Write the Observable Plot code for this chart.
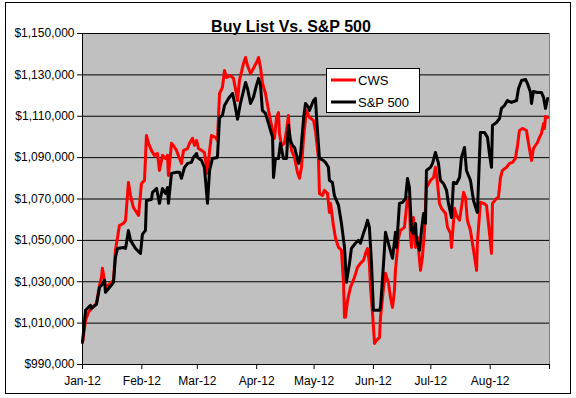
<!DOCTYPE html>
<html><head><meta charset="utf-8">
<script src="https://cdn.jsdelivr.net/npm/d3@7"></script>
<script src="https://cdn.jsdelivr.net/npm/@observablehq/plot@0.6"></script>
<style>body{margin:0;background:#fff;} svg{display:block}</style>
</head><body><div id="chart"></div>
<script>
const title = "Buy List Vs. S&P 500";
const seriesNames = ["CWS", "S&P 500"];
const seriesColors = ["#ff0000", "#000000"];
const yTicks = [990000, 1010000, 1030000, 1050000, 1070000, 1090000, 1110000, 1130000, 1150000];
const xTickLabels = ["Jan-12", "Feb-12", "Mar-12", "Apr-12", "May-12", "Jun-12", "Jul-12", "Aug-12"];
// [days since 1 Jan 2012, portfolio value]
const cwsData = [[0,1000700],[1.6,1011400],[3.1,1015200],[4.7,1017100],[7.3,1019600],[8.9,1028300],[9.9,1032100],[10.4,1036500],[11.5,1030700],[12.0,1027300],[14.6,1029200],[16.2,1030700],[17.2,1045200],[18.3,1051400],[19.3,1057200],[21.4,1058200],[22.5,1059700],[24.0,1078000],[25.1,1071700],[26.6,1065900],[29.3,1062100],[30.8,1077500],[32.4,1079000],[33.4,1100700],[34.5,1096900],[36.0,1093500],[37.6,1091100],[39.2,1092000],[40.2,1083800],[41.8,1091100],[43.4,1089600],[44.4,1091100],[44.9,1081400],[46.5,1096900],[47.5,1095900],[49.1,1093500],[50.7,1089600],[51.7,1087200],[52.8,1093500],[54.9,1094400],[55.9,1096900],[57.5,1099300],[58.5,1095900],[59.6,1098300],[60.6,1094400],[62.2,1093500],[63.7,1092500],[65.3,1082400],[66.4,1093500],[67.4,1100700],[69.5,1099800],[70.5,1098300],[71.6,1121000],[73.1,1123900],[74.2,1132100],[75.2,1128700],[77.3,1129700],[78.9,1128300],[79.9,1123400],[81.0,1117600],[82.0,1127300],[84.1,1135500],[85.2,1138400],[86.2,1134500],[87.8,1130700],[89.3,1133100],[91.4,1137000],[92.0,1138400],[93.0,1133600],[94.0,1126300],[95.6,1121000],[97.2,1112800],[99.3,1103100],[100.3,1099300],[101.4,1109400],[102.4,1111800],[102.9,1101700],[104.0,1095900],[105.5,1096900],[106.6,1103100],[107.6,1110400],[108.2,1099800],[109.2,1093500],[110.8,1090100],[112.3,1082900],[113.4,1080000],[114.4,1085300],[115.5,1099800],[117.0,1112800],[118.6,1109400],[120.7,1108000],[121.7,1103100],[123.3,1089600],[123.8,1072700],[125.4,1071700],[126.4,1074200],[128.0,1072700],[129.0,1063500],[129.6,1067900],[131.1,1057200],[132.2,1051000],[133.8,1046600],[135.3,1045200],[136.4,1029200],[136.9,1012800],[137.4,1012800],[138.5,1021000],[140.0,1027300],[142.1,1032100],[143.7,1037000],[145.2,1038900],[146.8,1040300],[147.9,1043700],[148.9,1046100],[149.9,1038900],[150.5,1027300],[151.5,1015200],[152.6,1000200],[153.6,1001700],[155.2,1003100],[155.7,1012800],[157.3,1027300],[158.3,1034100],[159.9,1029200],[160.9,1022500],[162.0,1017600],[163.0,1025800],[163.5,1035500],[165.1,1051000],[166.1,1054800],[168.2,1056300],[169.8,1070800],[170.8,1069300],[171.4,1051400],[171.9,1046600],[172.9,1061100],[174.0,1046600],[175.0,1051400],[176.6,1035500],[177.6,1041800],[178.7,1054800],[179.7,1075600],[181.8,1079000],[183.4,1080400],[184.4,1085300],[185.5,1077500],[186.5,1067900],[187.6,1065500],[189.7,1063000],[190.7,1056300],[192.3,1053400],[192.8,1046600],[194.4,1065500],[195.4,1062100],[197.0,1059700],[198.0,1065900],[199.1,1073200],[200.1,1070800],[201.1,1059700],[202.7,1054800],[204.3,1045200],[205.9,1035500],[206.3,1048600],[207.9,1068400],[209.5,1067900],[211.1,1066900],[212.1,1058200],[213.7,1043700],[214.2,1067900],[216.3,1070300],[217.3,1070800],[218.4,1080400],[219.4,1083800],[221.5,1085300],[223.1,1087200],[224.7,1087700],[226.2,1089600],[227.3,1095900],[228.3,1103100],[229.9,1104100],[232.0,1103100],[232.5,1099800],[234.1,1091100],[234.6,1088600],[235.6,1094400],[237.7,1097300],[238.8,1099800],[239.8,1101700],[240.9,1106500],[241.4,1104100],[241.9,1109900],[243.0,1109400]];
const spData = [[0,1000700],[1.6,1016200],[4.2,1018600],[4.7,1017100],[7.3,1019100],[8.9,1027300],[9.9,1028300],[11.5,1030700],[12.0,1024900],[14.6,1027800],[16.2,1029700],[17.2,1041800],[18.3,1046100],[21.4,1046600],[22.5,1046100],[24.0,1054800],[25.1,1050000],[27.7,1046100],[30.3,1043700],[31.3,1052900],[32.9,1054800],[33.4,1069300],[36.0,1069800],[36.6,1073200],[38.7,1075100],[40.2,1067900],[41.8,1075100],[43.4,1072700],[44.4,1075600],[44.9,1067900],[46.5,1082400],[49.1,1082900],[50.7,1082900],[51.7,1080000],[53.3,1085300],[54.9,1087200],[56.9,1087700],[58.0,1090100],[59.6,1092000],[60.1,1090100],[62.2,1088600],[63.7,1085300],[65.3,1067900],[66.4,1083800],[67.9,1089600],[70.5,1090100],[71.6,1109400],[73.1,1110400],[74.2,1115200],[76.3,1118600],[78.4,1121000],[79.4,1116700],[81.0,1108500],[82.5,1116200],[85.2,1126300],[86.2,1123400],[87.8,1116200],[89.3,1119100],[90.9,1124900],[92.0,1128300],[93.0,1124900],[94.0,1112800],[95.6,1111400],[97.2,1106500],[99.3,1099800],[99.8,1080400],[100.8,1089600],[102.4,1089600],[103.4,1096900],[105.0,1089600],[106.6,1089600],[107.6,1105600],[108.7,1098300],[109.7,1095900],[110.8,1094900],[112.9,1087200],[113.9,1091100],[115.5,1108900],[116.5,1116200],[118.1,1114300],[118.6,1112800],[120.7,1117600],[121.7,1118600],[122.3,1109400],[123.8,1089600],[125.9,1088600],[127.0,1087700],[128.5,1085300],[129.0,1079000],[130.6,1078000],[131.6,1071700],[133.8,1066900],[135.3,1058200],[136.9,1046600],[137.9,1029700],[139.5,1038900],[140.5,1046100],[142.6,1048600],[144.2,1050000],[145.2,1048600],[146.8,1053400],[147.9,1056300],[148.9,1059700],[149.9,1056300],[151.0,1038900],[152.0,1016200],[155.2,1016200],[155.7,1017600],[157.3,1038900],[158.3,1053900],[160.4,1046600],[162.0,1041300],[163.5,1053900],[164.1,1046600],[165.6,1067900],[167.2,1068400],[168.8,1070300],[169.8,1079900],[170.8,1075600],[171.9,1054800],[172.9,1053400],[174.0,1058200],[174.5,1050000],[176.1,1045200],[177.1,1054800],[178.2,1063000],[179.2,1058200],[179.7,1083800],[181.8,1085300],[182.9,1087200],[184.4,1092500],[186.0,1087200],[187.0,1079000],[188.6,1077500],[190.2,1074200],[191.2,1067900],[192.8,1061100],[193.8,1078000],[195.4,1077500],[197.0,1080400],[198.0,1090100],[199.6,1094900],[200.6,1083800],[202.7,1079000],[204.3,1069300],[205.9,1064500],[206.3,1063500],[206.9,1077500],[207.9,1102200],[210.0,1102200],[211.6,1099800],[212.6,1092000],[213.7,1085300],[214.2,1105600],[216.3,1107000],[217.9,1108900],[218.9,1113800],[220.5,1115200],[222.0,1117600],[224.1,1116700],[226.8,1117600],[227.8,1123400],[229.4,1127300],[231.5,1127800],[232.5,1125800],[234.1,1121500],[234.6,1116200],[235.6,1122000],[237.7,1121500],[239.8,1121500],[240.9,1119100],[241.9,1113800],[243.0,1118600]];

const t0 = Date.UTC(2012, 0, 1);
const toDate = d => new Date(t0 + d * 864e5);
const monthTicks = d3.range(9).map(m => new Date(Date.UTC(2012, m, 1)));
const labelMap = new Map(xTickLabels.map((l, i) => [+monthTicks[i], l]));
const cws = cwsData.map(([d, v]) => ({date: toDate(d), value: v}));
const sp = spData.map(([d, v]) => ({date: toDate(d), value: v}));
const font = "'Liberation Sans', Arial, sans-serif";

const svg = Plot.plot({
  width: 576, height: 398,
  marginLeft: 82, marginRight: 27, marginTop: 33, marginBottom: 34,
  style: {fontFamily: font, fontSize: "12px", background: "#fff", color: "#000"},
  x: {type: "utc", domain: [monthTicks[0], monthTicks[8]]},
  y: {domain: [990000, 1150000]},
  marks: [
    Plot.frame({fill: "#c0c0c0", stroke: "#808080"}),
    Plot.ruleY(yTicks, {stroke: "#000", strokeWidth: 1}),
    Plot.ruleX([monthTicks[0]], {stroke: "#000"}),
    Plot.axisY(yTicks, {tickFormat: d3.format("$,"), tickSize: 5, tickPadding: 3, label: null, fontSize: 12, letterSpacing: "0.5px"}),
    Plot.axisX(monthTicks, {tickFormat: d => labelMap.get(+d) ?? "", tickSize: 5, tickPadding: 7, label: null, fontSize: 12, letterSpacing: "0.3px"}),
    Plot.line(cws, {x: "date", y: "value", stroke: seriesColors[0], strokeWidth: 3}),
    Plot.line(sp, {x: "date", y: "value", stroke: seriesColors[1], strokeWidth: 3}),
    Plot.text([title], {frameAnchor: "top", dx: -25, dy: -13, fontSize: 16, fontWeight: "bold", letterSpacing: "2.2px"})
  ]
});

const s = d3.select(svg);
s.append("rect").attr("x", 5.5).attr("y", 2.5).attr("width", 565).attr("height", 391)
  .attr("fill", "none").attr("stroke", "#000");
const lg = s.append("g").attr("font-family", font).attr("font-size", 13).attr("text-anchor", "start");
lg.append("rect").attr("x", 326.5).attr("y", 68.5).attr("width", 93).attr("height", 44)
  .attr("fill", "#fff").attr("stroke", "#000");
seriesNames.forEach((name, i) => {
  const y = 80 + i * 22;
  lg.append("line").attr("x1", 331).attr("x2", 356).attr("y1", y).attr("y2", y)
    .attr("stroke", seriesColors[i]).attr("stroke-width", 3);
  lg.append("text").attr("x", 358).attr("y", y + 5).attr("text-anchor", "start").text(name);
});
document.getElementById("chart").appendChild(svg);
</script>
</body></html>
